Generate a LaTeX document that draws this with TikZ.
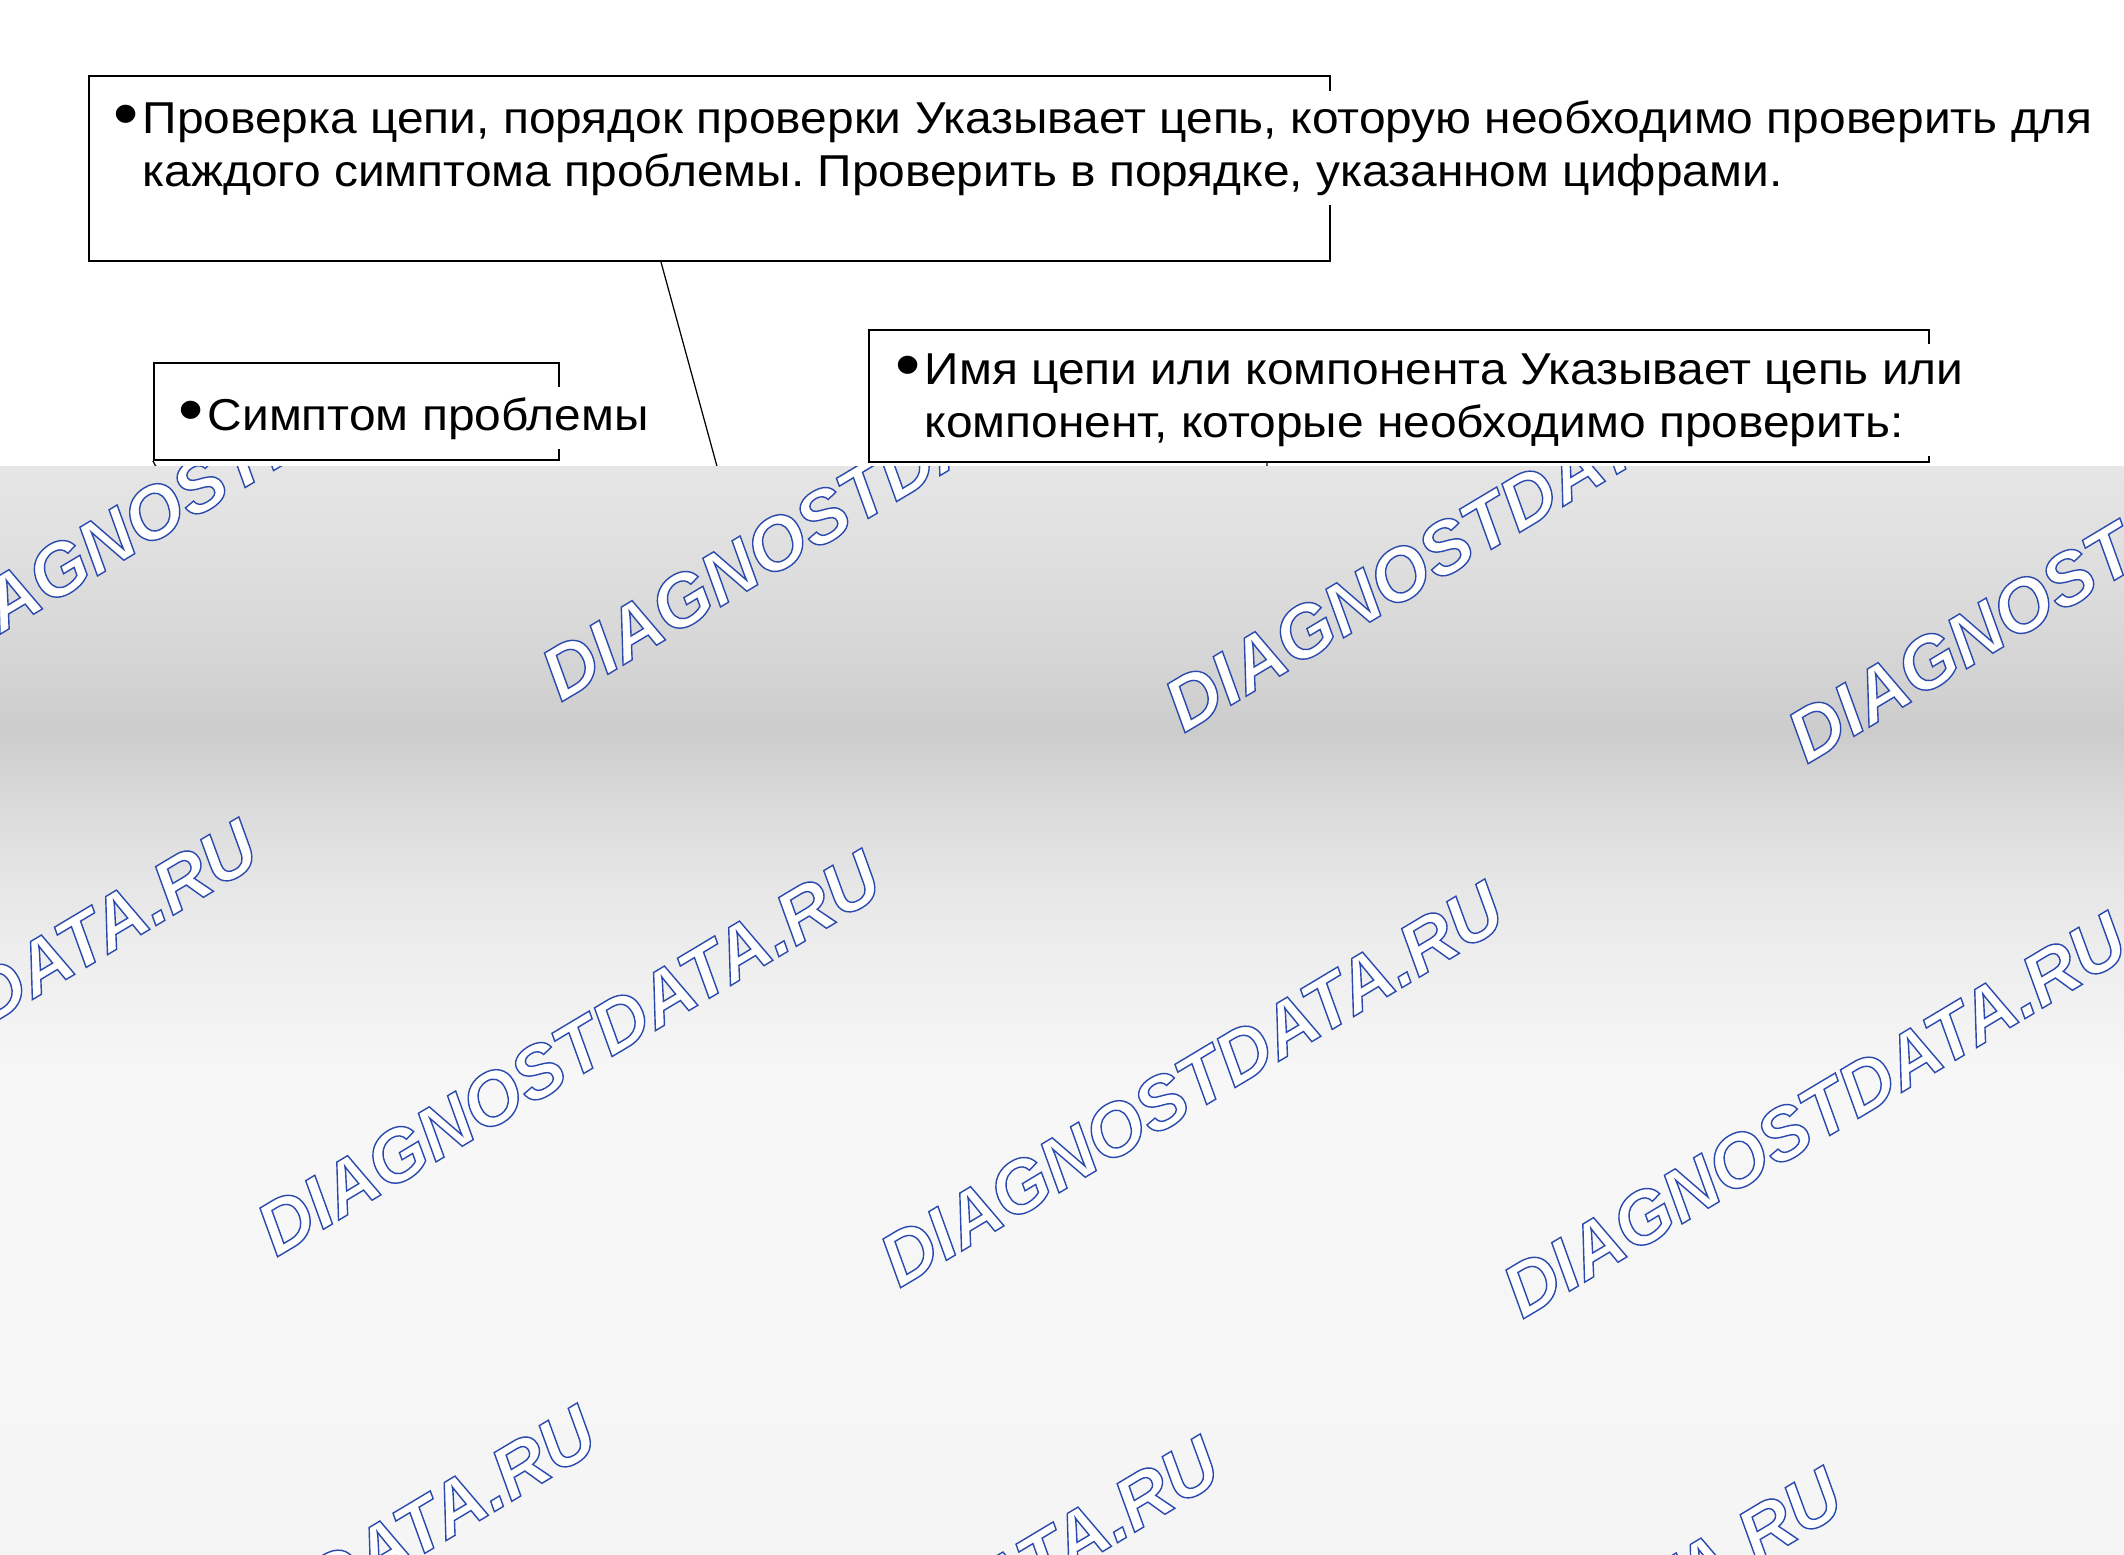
\documentclass[tikz,border=0pt]{standalone}
\usepackage{fontspec}
\setmainfont{Liberation Sans}
\newfontfamily\notefont{Liberation Sans}[FakeStretch=1.072]
\newfontfamily\wmfont{Liberation Sans}
\usepackage{xcolor}
\usepackage{graphicx}
\definecolor{wmblue}{HTML}{2B4AAE}
\pgfdeclareverticalshading{fog}{100bp}{%
  color(0bp)=(black!4!white); color(25bp)=(black!4!white);
  color(46.6bp)=(black!3!white); color(49.7bp)=(black!5!white);
  color(52.8bp)=(black!7!white); color(56bp)=(black!10!white);
  color(59.1bp)=(black!14!white); color(62.8bp)=(black!20!white);
  color(66.5bp)=(black!16!white); color(71.5bp)=(black!12!white);
  color(75bp)=(black!10!white); color(100bp)=(black!10!white)}
\newcommand{\dotmark}{\llap{\raisebox{-0.6pt}{\scalebox{1.5}{•}}\hspace{0.1em}}}
\newcommand{\hollow}[1]{\special{pdf:literal direct 2 Tr 0.4 w 0.169 0.290 0.682 RG}#1\special{pdf:literal direct 0 Tr}}
\tikzset{
  notebox/.style={draw, line width=0.55pt, inner sep=0pt},
  notetext/.style={fill=white, align=left, inner xsep=0.05cm, inner ysep=0.1cm,
    font=\notefont\frenchspacing\fontsize{12.7pt}{14.8pt}\selectfont},
  leader/.style={line width=0.35pt},
  wmark/.style={rotate=30.9, inner sep=0pt, text=white,
    font=\wmfont\bfseries\itshape\fontsize{21pt}{21pt}\selectfont}
}

\begin{document}
\begin{tikzpicture}[x=0.01cm, y=-0.01cm]
                \useasboundingbox (0,0) rectangle (2124,1554);
                \fill[white] (0,0) rectangle (2124,1554);

                % frames
                \node[notebox, minimum width=12.41cm, minimum height=1.85cm] (orderbox) at (709.5,168.5) {};
                \node[notebox, minimum width=4.05cm, minimum height=0.97cm] (symptombox) at (356.5,411.5) {};
                \node[notebox, minimum width=10.60cm, minimum height=1.32cm] (partbox) at (1399,396) {};

                % leader lines
                \coordinate (orderend) at (718,470);
                \coordinate (symptomend) at (158,470);
                \coordinate (partend) at (1267,470);
                \draw[leader] ([xshift=-0.485cm]orderbox.south) -- (orderend);
                \draw[leader] (symptombox.south west) -- (symptomend);
                \draw[leader] ([xshift=-1.32cm]partbox.south) -- (partend);

                % texts (base = last line)
                \node[notetext, anchor=base west] (ordertext) at (137,186) {
                    \dotmark Проверка цепи, порядок проверки Указывает цепь, которую необходимо проверить для\\
                    каждого симптома проблемы. Проверить в порядке, указанном цифрами.
                };
                \node[notetext, anchor=base west] (symptomtext) at (202,430) {\dotmark Симптом проблемы};
                \node[notetext, anchor=base west] (parttext) at (919,437) {
                    \dotmark Имя цепи или компонента Указывает цепь или\\
                    компонент, которые необходимо проверить:
                };

                % lower area
                \shade[shading=fog] (0,466) rectangle (2124,1554);
                \begin{scope}
                    \clip (0,466) rectangle (2124,1554);
                    \foreach \i/\j in {0/0,1/0,2/0,3/0,0/1,1/1,2/1,3/1,1/2,2/2,3/2}
                        \node[wmark] (wm-\i-\j) at ({230+623*\i-284.5*\j},{467+31*\i+555*\j}) {\hollow{DIAGNOSTDATA.RU}};
                \end{scope}
            \end{tikzpicture}
\end{document}
